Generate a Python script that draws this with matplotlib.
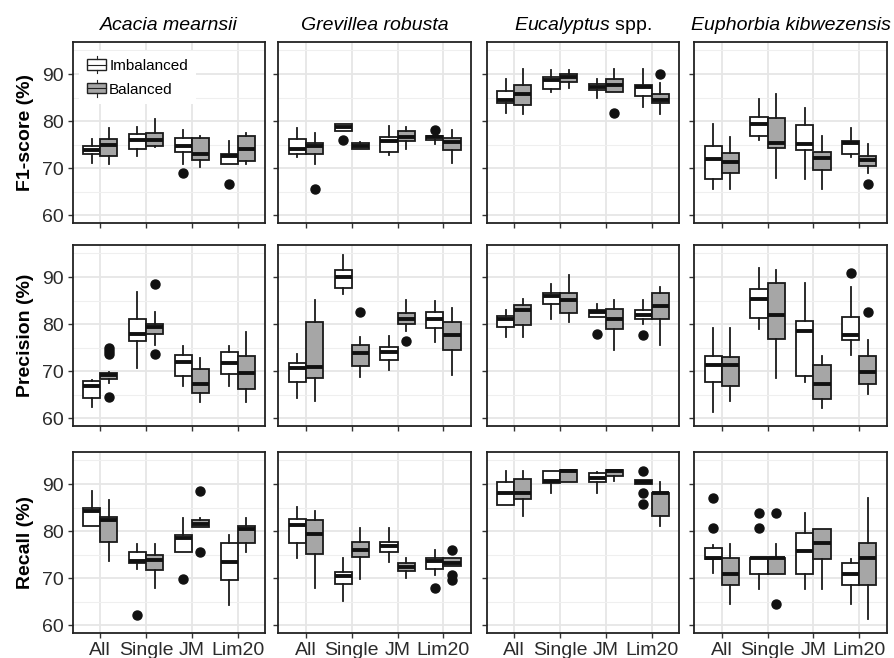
import numpy as np
import matplotlib.pyplot as plt
from matplotlib.legend_handler import HandlerBase
from matplotlib.patches import Rectangle
from matplotlib.lines import Line2D

plt.rcParams['font.family'] = ['Liberation Sans', 'DejaVu Sans']
plt.rcParams['mathtext.fontset'] = 'custom'
plt.rcParams['mathtext.it'] = 'Liberation Sans:italic'
plt.rcParams['mathtext.rm'] = 'Liberation Sans'

species = ['Acacia mearnsii', 'Grevillea robusta', 'Eucalyptus', 'Euphorbia kibwezensis']
methods = ['All', 'Single', 'JM', 'Lim20']
metrics = ['F1-score (%)', 'Precision (%)', 'Recall (%)']

# box stats per species, per method: [whislo, q1, med, q3, whishi]
f1_imb = [
    [[71.1, 73.1, 73.8, 74.8, 76.3], [72.6, 74.2, 76.1, 77.2, 78.8], [71.0, 73.5, 74.8, 76.5, 78.1], [71.0, 71.0, 72.6, 73.0, 75.7]],
    [[72.3, 73.1, 74.2, 76.2, 78.6], [77.9, 77.9, 78.8, 79.4, 79.5], [72.8, 73.5, 75.8, 76.7, 78.9], [75.2, 76.1, 76.7, 76.9, 76.9]],
    [[81.8, 83.8, 84.5, 86.5, 88.9], [86.2, 86.8, 88.7, 89.4, 90.9], [85.0, 86.6, 87.2, 87.9, 88.9], [83.0, 85.3, 87.2, 87.7, 91.1]],
    [[65.7, 67.8, 71.9, 74.8, 79.4], [76.0, 76.8, 79.5, 80.8, 84.7], [67.7, 73.8, 75.1, 79.1, 82.7], [72.3, 73.0, 75.4, 75.9, 78.6]],
]
f1_bal = [
    [[70.9, 72.6, 74.9, 76.2, 78.6], [74.5, 74.7, 76.1, 77.6, 80.4], [70.3, 71.7, 73.1, 76.5, 76.8], [71.0, 71.6, 74.0, 76.9, 77.6]],
    [[70.9, 73.1, 74.7, 75.4, 77.6], [74.2, 74.2, 74.7, 75.4, 75.6], [74.0, 75.8, 76.7, 77.9, 78.8], [71.1, 73.8, 75.6, 76.5, 78.2]],
    [[81.5, 83.4, 85.7, 87.7, 91.1], [87.0, 88.4, 89.4, 90.0, 90.9], [86.2, 86.2, 87.7, 88.9, 91.1], [81.5, 83.8, 84.6, 85.7, 88.0]],
    [[65.7, 69.0, 71.3, 73.3, 76.7], [68.0, 74.4, 75.4, 80.6, 85.7], [65.6, 69.6, 72.1, 73.4, 76.9], [69.0, 70.4, 71.8, 72.7, 75.2]],
]
prec_imb = [
    [[62.5, 64.3, 66.8, 68.0, 68.2], [70.8, 76.5, 77.9, 81.1, 86.8], [66.8, 69.0, 72.0, 73.5, 75.4], [66.8, 69.4, 71.7, 74.2, 75.4]],
    [[64.4, 67.8, 70.6, 71.7, 73.6], [86.3, 87.7, 90.0, 91.4, 94.6], [70.3, 72.5, 74.2, 75.1, 77.5], [76.3, 79.1, 81.2, 82.5, 84.9]],
    [[77.2, 79.4, 81.0, 81.7, 83.1], [81.2, 84.2, 85.9, 86.6, 88.5], [81.5, 81.5, 82.6, 83.1, 84.2], [80.1, 81.1, 81.9, 83.0, 85.2]],
    [[61.3, 67.8, 71.3, 73.2, 79.2], [78.9, 81.4, 85.3, 87.5, 91.9], [67.8, 69.0, 78.5, 80.7, 88.8], [73.5, 76.6, 77.7, 81.5, 87.9]],
]
prec_bal = [
    [[67.6, 68.3, 69.2, 69.6, 69.8], [75.6, 77.9, 79.3, 80.0, 82.6], [63.4, 65.4, 67.3, 70.4, 72.9], [63.4, 66.2, 69.7, 73.2, 78.4]],
    [[63.6, 68.5, 71.0, 80.5, 85.1], [68.9, 71.2, 73.9, 75.5, 77.2], [78.6, 80.1, 81.2, 82.4, 85.1], [69.2, 74.6, 77.8, 80.5, 83.5]],
    [[77.2, 79.8, 83.0, 84.0, 85.3], [80.5, 82.4, 85.1, 86.6, 90.4], [74.6, 78.9, 81.2, 83.3, 85.2], [75.6, 81.1, 83.9, 86.6, 87.9]],
    [[63.7, 66.8, 71.3, 73.1, 79.2], [68.5, 76.8, 81.9, 88.7, 91.5], [62.3, 64.2, 67.3, 71.3, 73.3], [65.1, 67.3, 69.9, 73.2, 76.6]],
]
rec_imb = [
    [[81.1, 81.1, 84.3, 84.9, 88.6], [71.9, 73.3, 73.7, 75.5, 77.2], [75.5, 75.5, 78.5, 79.2, 82.9], [64.3, 69.7, 73.5, 77.4, 79.1]],
    [[74.4, 77.4, 81.3, 82.6, 85.2], [65.2, 68.9, 70.5, 71.4, 74.3], [73.5, 75.5, 76.9, 77.8, 80.6], [70.7, 71.9, 73.7, 74.3, 76.0]],
    [[85.6, 85.6, 88.2, 90.5, 92.8], [88.2, 90.2, 90.7, 92.8, 92.8], [88.2, 90.4, 91.3, 92.3, 92.5], [90.0, 90.0, 90.5, 90.9, 90.9]],
    [[71.1, 74.0, 74.4, 76.5, 77.1], [67.8, 70.9, 74.3, 74.4, 74.4], [67.8, 70.9, 75.8, 79.7, 83.8], [64.6, 68.5, 71.0, 73.3, 74.0]],
]
rec_bal = [
    [[73.7, 77.7, 82.4, 83.0, 86.7], [68.0, 71.7, 73.8, 75.0, 77.2], [80.8, 80.8, 81.5, 82.4, 82.9], [75.5, 77.4, 80.4, 81.1, 82.9]],
    [[68.0, 75.1, 79.4, 82.4, 84.3], [69.8, 74.5, 76.0, 77.8, 80.6], [70.0, 71.6, 72.4, 73.3, 74.3], [72.6, 72.6, 73.3, 74.3, 74.3]],
    [[83.3, 86.8, 88.0, 91.1, 92.8], [90.4, 90.4, 92.8, 93.0, 93.0], [90.6, 91.8, 92.7, 93.0, 93.0], [81.1, 83.3, 88.0, 88.2, 90.4]],
    [[64.6, 68.5, 70.9, 74.3, 77.2], [70.9, 70.9, 74.3, 74.4, 77.2], [67.8, 74.2, 77.4, 80.4, 80.4], [61.3, 68.5, 74.3, 77.4, 87.0]],
]

# outliers per species, per method
f1_imb_out = [[[], [], [69.1], [66.7]], [[], [76.1], [], [78.2]], [[], [], [], []], [[], [], [], []]]
f1_bal_out = [[[], [], [], []], [[65.6], [], [], []], [[], [], [81.8], [90.0]], [[], [], [], [66.7]]]
prec_imb_out = [[[], [], [], []], [[], [], [], []], [[], [], [78.0], [77.7]], [[], [], [], [90.9]]]
prec_bal_out = [[[75.0, 74.3, 73.6, 64.6], [88.6, 73.6], [], []], [[], [82.6], [76.5], []],
                [[], [], [], []], [[], [], [], [82.6]]]
rec_imb_out = [[[], [62.3], [69.8], []], [[], [], [], [68.0]], [[], [], [], [92.8, 88.1, 85.7]],
               [[87.0, 80.6], [83.8, 80.6], [], []]]
rec_bal_out = [[[], [], [88.6, 75.5], []], [[], [], [], [76.0, 70.7, 69.6]], [[], [], [], []],
               [[], [83.8, 64.5], [], []]]

rows = [(f1_imb, f1_bal, f1_imb_out, f1_bal_out),
        (prec_imb, prec_bal, prec_imb_out, prec_bal_out),
        (rec_imb, rec_bal, rec_imb_out, rec_bal_out)]

fill_imb = 'white'
fill_bal = '#a6a6a6'


def make_stats(vals, outs):
    res = []
    for v, o in zip(vals, outs):
        res.append(dict(whislo=v[0], q1=v[1], med=v[2], q3=v[3], whishi=v[4], fliers=o))
    return res


class BoxHandler(HandlerBase):
    def create_artists(self, legend, orig_handle, xdescent, ydescent, width, height, fontsize, trans):
        x0, y0 = -xdescent, -ydescent
        fc = orig_handle.get_facecolor()
        r = Rectangle((x0, y0 + 0.1 * height), width, 0.8 * height, facecolor=fc,
                      edgecolor='#222222', lw=1.0, transform=trans)
        med = Line2D([x0, x0 + width], [y0 + 0.5 * height] * 2, color='#222222', lw=0.8, transform=trans)
        w1 = Line2D([x0 + width / 2] * 2, [y0 - 0.15 * height, y0 + 0.1 * height], color='#222222', lw=0.8, transform=trans)
        w2 = Line2D([x0 + width / 2] * 2, [y0 + 0.9 * height, y0 + 1.15 * height], color='#222222', lw=0.8, transform=trans)
        return [r, med, w1, w2]


fig = plt.figure(figsize=(8.95, 6.58), dpi=100)
W, H = 895, 658
lefts = [72.7, 278.5, 486.7, 694.3]
tops = [42, 245, 452]
pw, ph = 192.5, 181

pos = np.arange(1, 5)
dodge = 0.1875
for r, (imb, bal, imb_out, bal_out) in enumerate(rows):
    for c in range(4):
        ax = fig.add_axes([lefts[c] / W, 1 - (tops[r] + ph) / H, pw / W, ph / H])
        for stats, outs, fill, sh in [(imb[c], imb_out[c], fill_imb, -dodge), (bal[c], bal_out[c], fill_bal, dodge)]:
            ax.bxp(make_stats(stats, outs), positions=pos + sh, widths=0.375, patch_artist=True,
                   showcaps=False,
                   boxprops=dict(facecolor=fill, edgecolor='#1a1a1a', linewidth=1.3),
                   medianprops=dict(color='#111111', linewidth=2.8, solid_capstyle='butt'),
                   whiskerprops=dict(color='#1a1a1a', linewidth=1.3),
                   flierprops=dict(marker='o', markerfacecolor='#111111', markeredgecolor='#111111',
                                   markersize=6.5))
        ax.set_xlim(0.4, 4.6)
        ax.set_ylim(58.4, 96.8)
        ax.set_yticks([60, 70, 80, 90])
        ax.set_yticks([65, 75, 85, 95], minor=True)
        ax.set_xticks(pos)
        ax.grid(True, which='major', color='#e6e6e6', linewidth=1.3)
        ax.grid(True, which='minor', axis='y', color='#efefef', linewidth=0.8)
        ax.set_axisbelow(True)
        ax.tick_params(which='major', length=3.5, width=1.0, color='#333333', labelsize=14,
                       labelcolor='#2b2b2b', pad=3)
        ax.tick_params(which='minor', length=0)
        for sp in ax.spines.values():
            sp.set_color('#222222')
            sp.set_linewidth(1.3)
        if c == 0:
            ax.set_ylabel(metrics[r], fontsize=14, fontweight='bold', labelpad=6)
        else:
            ax.set_yticklabels([])
        if r == 2:
            ax.set_xticklabels(methods)
        else:
            ax.set_xticklabels([])
        if r == 0:
            if species[c] == 'Eucalyptus':
                ax.set_title(r'$\it{Eucalyptus}$ spp.', fontsize=14, pad=9)
            else:
                ax.set_title(species[c], fontsize=14, style='italic', pad=9)
        if r == 0 and c == 0:
            h1 = Rectangle((0, 0), 1, 1, facecolor=fill_imb)
            h2 = Rectangle((0, 0), 1, 1, facecolor=fill_bal)
            leg = ax.legend([h1, h2], ['Imbalanced', 'Balanced'], loc='upper left',
                            bbox_to_anchor=(-0.005, 0.995), fontsize=11, frameon=True,
                            fancybox=False, edgecolor='none', facecolor='white', framealpha=1,
                            handlelength=1.25, handleheight=0.9, handletextpad=0.2,
                            labelspacing=0.6, borderpad=0.5,
                            handler_map={Rectangle: BoxHandler()})

fig.savefig('out.png', dpi=100)
